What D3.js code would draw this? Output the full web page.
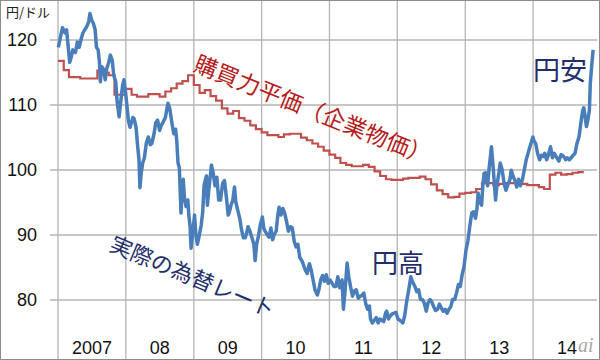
<!DOCTYPE html>
<html lang="ja">
<head>
<meta charset="utf-8">
<title>円ドル 為替レートと購買力平価</title>
<script src="https://cdn.jsdelivr.net/npm/d3@7"></script>
<style>
  body { margin: 0; background: #fff; }
  svg { display: block; }
</style>
</head>
<body>
<script>

// 実際の為替レート (円/ドル)
var fxDates = [
  "2007-01-03","2007-01-15","2007-01-25","2007-02-08","2007-02-16","2007-02-28","2007-03-05","2007-03-15","2007-03-22",
  "2007-04-05","2007-04-15","2007-04-25","2007-05-05","2007-05-15","2007-05-25","2007-06-05","2007-06-15","2007-06-22",
  "2007-07-01","2007-07-10","2007-07-20","2007-07-27","2007-08-05","2007-08-12","2007-08-17","2007-08-25","2007-09-05",
  "2007-09-12","2007-09-20","2007-10-01","2007-10-10","2007-10-20","2007-10-28","2007-11-08","2007-11-15","2007-11-26",
  "2007-12-05","2007-12-15","2007-12-22","2007-12-31",
  "2008-01-08","2008-01-15","2008-01-24","2008-02-01","2008-02-08","2008-02-15","2008-02-25","2008-03-05","2008-03-12",
  "2008-03-17","2008-03-24","2008-04-01","2008-04-10","2008-04-20","2008-05-01","2008-05-12","2008-05-20","2008-06-01",
  "2008-06-10","2008-06-20","2008-07-01","2008-07-10","2008-07-20","2008-08-01","2008-08-10","2008-08-15","2008-08-25",
  "2008-09-05","2008-09-15","2008-09-25","2008-10-01","2008-10-08","2008-10-15","2008-10-24","2008-10-30","2008-11-05",
  "2008-11-12","2008-11-20","2008-11-30","2008-12-05","2008-12-12","2008-12-17","2008-12-25",
  "2009-01-05","2009-01-12","2009-01-20","2009-01-30","2009-02-10","2009-02-18","2009-02-25","2009-03-05","2009-03-10",
  "2009-03-15","2009-03-25","2009-04-06","2009-04-15","2009-04-25","2009-05-05","2009-05-15","2009-05-25","2009-06-05",
  "2009-06-15","2009-06-25","2009-07-05","2009-07-10","2009-07-20","2009-07-30","2009-08-08","2009-08-15","2009-08-25",
  "2009-09-05","2009-09-15","2009-09-25","2009-10-05","2009-10-12","2009-10-20","2009-10-30","2009-11-10","2009-11-20",
  "2009-11-27","2009-12-05","2009-12-15","2009-12-25",
  "2010-01-05","2010-01-12","2010-01-20","2010-02-01","2010-02-10","2010-02-20","2010-03-01","2010-03-10","2010-03-20",
  "2010-03-30","2010-04-05","2010-04-15","2010-04-25","2010-05-05","2010-05-15","2010-05-25","2010-06-05","2010-06-15",
  "2010-06-25","2010-07-05","2010-07-15","2010-07-25","2010-08-05","2010-08-12","2010-08-24","2010-09-03","2010-09-15",
  "2010-09-25","2010-10-05","2010-10-15","2010-10-28","2010-11-05","2010-11-15","2010-11-25","2010-12-05","2010-12-15",
  "2010-12-25",
  "2011-01-05","2011-01-15","2011-01-25","2011-02-05","2011-02-15","2011-02-25","2011-03-05","2011-03-10","2011-03-17",
  "2011-03-25","2011-04-06","2011-04-15","2011-04-25","2011-05-05","2011-05-15","2011-05-25","2011-06-05","2011-06-15",
  "2011-06-25","2011-07-05","2011-07-15","2011-07-25","2011-08-04","2011-08-10","2011-08-20","2011-08-30","2011-09-10",
  "2011-09-20","2011-09-30","2011-10-10","2011-10-20","2011-10-31","2011-11-05","2011-11-15","2011-11-25","2011-12-05",
  "2011-12-15","2011-12-25",
  "2012-01-05","2012-01-15","2012-01-31","2012-02-10","2012-02-20","2012-03-01","2012-03-14","2012-03-22","2012-04-05",
  "2012-04-15","2012-04-25","2012-05-05","2012-05-15","2012-05-25","2012-06-05","2012-06-15","2012-06-25","2012-07-05",
  "2012-07-15","2012-07-25","2012-08-05","2012-08-15","2012-08-25","2012-09-05","2012-09-15","2012-09-25","2012-10-05",
  "2012-10-15","2012-10-25","2012-11-05","2012-11-15","2012-11-25","2012-12-05","2012-12-15","2012-12-25",
  "2013-01-05","2013-01-15","2013-01-25","2013-02-05","2013-02-15","2013-02-25","2013-03-05","2013-03-11","2013-03-20",
  "2013-03-30","2013-04-05","2013-04-12","2013-04-20","2013-05-01","2013-05-10","2013-05-22","2013-06-01","2013-06-13",
  "2013-06-20","2013-07-01","2013-07-08","2013-07-18","2013-07-30","2013-08-08","2013-08-20","2013-08-30","2013-09-05",
  "2013-09-15","2013-09-25","2013-10-05","2013-10-15","2013-10-25","2013-11-05","2013-11-15","2013-11-25","2013-12-05",
  "2013-12-15","2013-12-31",
  "2014-01-05","2014-01-15","2014-01-25","2014-02-05","2014-02-15","2014-02-25","2014-03-05","2014-03-15","2014-03-25",
  "2014-04-05","2014-04-15","2014-04-25","2014-05-05","2014-05-20","2014-06-01","2014-06-15","2014-06-25","2014-07-05",
  "2014-07-15","2014-07-25","2014-08-05","2014-08-15","2014-08-25","2014-09-05","2014-09-15","2014-09-25","2014-10-01",
  "2014-10-08","2014-10-15","2014-10-22","2014-10-31","2014-11-05","2014-11-12","2014-11-20"
];
var fxValues = [
  118.8,120.5,121.8,121.0,121.5,118.0,116.5,117.5,118.4,
  118.0,119.6,118.8,120.0,121.0,121.5,122.0,122.7,124.0,
  123.0,122.5,121.5,118.8,118.4,116.5,113.5,115.8,115.3,
  113.8,115.5,116.5,117.6,116.8,114.5,113.5,110.5,108.1,
  110.5,113.0,113.8,111.8,
  109.5,107.5,106.5,107.3,108.0,107.8,106.5,103.5,101.5,
  97.2,99.5,101.0,101.8,104.0,105.0,103.8,104.0,105.5,
  107.2,107.6,106.0,106.8,107.3,108.0,109.5,110.2,109.3,
  107.2,105.5,106.2,104.5,101.0,100.3,93.3,97.0,98.5,
  95.5,94.3,95.3,93.0,91.2,87.9,90.0,
  93.0,90.0,88.5,89.8,91.5,93.5,97.5,98.5,99.0,
  94.5,97.5,100.7,99.5,97.5,98.8,95.3,95.3,97.9,
  98.3,95.8,93.0,93.3,94.5,95.3,97.3,95.0,93.8,
  92.5,90.7,89.5,89.5,90.2,91.2,90.5,89.5,88.5,
  86.0,88.5,89.8,91.5,
  92.7,91.0,90.5,89.9,89.6,91.0,89.2,90.0,90.5,
  93.2,94.2,93.0,94.0,93.3,92.0,90.5,91.2,91.0,
  89.0,88.1,88.5,86.5,86.0,85.5,84.5,84.0,85.5,
  84.5,83.0,81.5,80.7,81.5,83.0,83.7,82.8,83.8,
  82.5,
  83.0,82.5,82.0,82.0,83.5,81.8,82.5,83.0,78.5,
  81.0,85.6,83.5,81.9,80.5,81.3,81.5,80.2,80.5,
  80.6,81.0,79.4,78.5,79.0,77.0,76.4,76.8,77.2,
  76.4,77.0,76.8,76.6,78.0,78.2,77.0,77.5,77.8,
  77.9,78.0,
  77.0,76.8,76.4,77.5,79.6,81.2,83.5,82.8,82.0,
  81.2,81.5,80.0,80.0,79.5,78.2,79.5,80.0,79.6,
  78.9,78.3,78.5,79.3,78.7,78.2,78.5,77.9,78.5,
  78.9,80.0,80.0,81.0,82.3,82.0,83.8,85.0,
  87.6,89.0,91.2,93.3,93.5,92.5,94.0,96.4,95.0,
  94.5,97.3,99.4,99.5,97.5,100.4,103.5,100.0,95.3,
  97.5,99.5,101.0,100.0,97.7,96.8,97.8,98.5,99.9,
  99.0,98.3,97.3,98.5,97.5,98.5,100.0,101.5,102.5,
  103.5,105.0,
  104.5,104.0,102.5,101.5,102.2,102.0,102.5,101.5,102.3,
  103.5,101.8,102.5,102.0,101.3,102.3,102.0,101.5,101.8,
  101.5,101.8,102.2,102.5,104.0,105.0,107.1,109.1,109.5,
  108.1,106.6,107.5,109.1,113.3,115.8,118.4
];

// 購買力平価(企業物価) 月次 2007年1月〜2014年9月
var pppStart = "2007-01-01";
var pppValues = [
  116.7,115.3,114.2,114.2,114.0,114.0,114.0,115.2,114.9,114.5,111.5,111.5,
  112.4,111.5,111.2,111.2,111.6,111.6,111.2,112.0,112.5,113.2,113.6,114.5,
  113.0,111.8,112.2,111.3,110.6,109.4,108.6,109.0,107.9,107.5,106.8,106.2,
  105.7,105.3,105.3,105.0,105.4,105.5,105.5,104.9,104.5,104.0,103.5,102.9,
  102.3,101.8,101.0,100.7,100.5,100.5,100.7,100.4,99.7,99.0,98.5,98.4,
  98.4,98.6,98.7,98.7,98.9,98.5,97.7,96.8,96.2,95.7,95.8,96.3,
  96.4,96.5,97.0,97.9,97.9,97.6,97.8,97.9,97.9,97.9,97.8,97.6,
  97.6,97.3,97.0,99.2,99.5,99.2,99.3,99.5,99.6
];

var yTicks = [80, 90, 100, 110, 120];
var yearTicks = ["2007","2008","2009","2010","2011","2012","2013","2014"];
var yearLabels = ["2007","08","09","10","11","12","13","14"];

//Width and height
var w = 600;
var h = 360;

var parse = d3.timeParse("%Y-%m-%d");

var x = d3.scaleTime()
          .domain([parse("2007-01-01"), parse("2015-01-01")])
          .range([58, 600.9]);

var y = d3.scaleLinear()
          .domain([80, 120])
          .range([299.5, 39.5]);

var svg = d3.select("body")
            .append("svg")
            .attr("width", w)
            .attr("height", h);

svg.append("rect")
   .attr("x", 0).attr("y", 0)
   .attr("width", w).attr("height", h)
   .attr("fill", "#fff");

// horizontal grid + left ticks
var yAxis = d3.axisLeft(y)
              .tickValues(yTicks)
              .tickSize(-(597 - 50))
              .tickPadding(13)
              .tickFormat(d3.format("d"));

var gy = svg.append("g")
            .attr("transform", "translate(50,0)")
            .call(yAxis);
gy.select(".domain").remove();
gy.selectAll(".tick line")
  .attr("x1", 0)
  .attr("x2", 597 - 50)
  .attr("stroke", "#b4b4b4")
  .attr("stroke-width", 1.3);
gy.selectAll(".tick text")
  .attr("x", -13)
  .attr("dy", "0.36em")
  .style("font-family", "'Liberation Sans', Arial, sans-serif")
  .style("font-size", "18px")
  .style("fill", "#111");

// vertical grid at start of every year
var yearDates = yearTicks.map(function(s) { return parse(s + "-01-01"); });
svg.append("g")
   .selectAll("line")
   .data(yearDates)
   .enter()
   .append("line")
   .attr("x1", function(d) { return x(d); })
   .attr("x2", function(d) { return x(d); })
   .attr("y1", 0)
   .attr("y2", h)
   .attr("stroke", "#b4b4b4")
   .attr("stroke-width", 1.3);

// year labels, centred in each year
svg.append("g")
   .selectAll("text")
   .data(yearDates)
   .enter()
   .append("text")
   .attr("x", function(d) { return (x(d) + x(d3.timeYear.offset(d, 1))) / 2; })
   .attr("y", 354)
   .attr("text-anchor", "middle")
   .style("font-family", "'Liberation Sans', Arial, sans-serif")
   .style("font-size", "18px")
   .style("fill", "#111")
   .text(function(d, i) { return yearLabels[i]; });

// unit label
svg.append("text")
   .attr("x", 6)
   .attr("y", 17)
   .style("font-family", "'Noto Sans CJK JP', sans-serif")
   .style("font-size", "13px")
   .style("fill", "#222")
   .text("円/ドル");

// PPP step line
var pppData = pppValues.map(function(v, i) {
  return { date: d3.timeMonth.offset(parse(pppStart), i), value: v };
});
pppData.push({ date: d3.timeMonth.offset(parse(pppStart), pppValues.length),
               value: pppValues[pppValues.length - 1] });

var pppLine = d3.line()
                .curve(d3.curveStepAfter)
                .x(function(d) { return x(d.date); })
                .y(function(d) { return y(d.value); });

svg.append("path")
   .datum(pppData)
   .attr("d", pppLine)
   .attr("fill", "none")
   .attr("stroke", "#c0504d")
   .attr("stroke-width", 2.2);

// actual exchange rate
var fxData = fxDates.map(function(s, i) {
  return { date: parse(s), value: fxValues[i] };
});

var fxLine = d3.line()
               .x(function(d) { return x(d.date); })
               .y(function(d) { return y(d.value); });

svg.append("path")
   .datum(fxData)
   .attr("d", fxLine)
   .attr("fill", "none")
   .attr("stroke", "#4a7ebb")
   .attr("stroke-width", 3.5)
   .attr("stroke-linejoin", "round");

// annotations
function note(txt, px, py, angle, size, color) {
  svg.append("text")
     .attr("transform", "translate(" + px + "," + py + ") rotate(" + angle + ")")
     .attr("dominant-baseline", "central")
     .style("font-family", "'Noto Sans CJK JP', sans-serif")
     .style("font-size", size + "px")
     .style("fill", color)
     .text(txt);
}

note("購買力平価（企業物価）", 196, 61, 22, 23, "#b51c1c");
note("実際の為替レート", 112, 241, 22.6, 22, "#1f2f6b");
note("円高", 372, 261.5, 0, 26, "#1f2f6b");
note("円安", 533, 68.5, 0, 27, "#1f2f6b");

// watermark
svg.append("text")
   .attr("x", 578)
   .attr("y", 352)
   .style("font-family", "'Liberation Serif', serif")
   .style("font-style", "italic")
   .style("font-size", "20px")
   .style("fill", "#a8a8a8")
   .text("ai");

// outer frame
svg.append("rect")
   .attr("x", 0.5).attr("y", 0.5)
   .attr("width", w - 1).attr("height", h - 1)
   .attr("fill", "none")
   .attr("stroke", "#8c8c8c");

</script>
</body>
</html>
